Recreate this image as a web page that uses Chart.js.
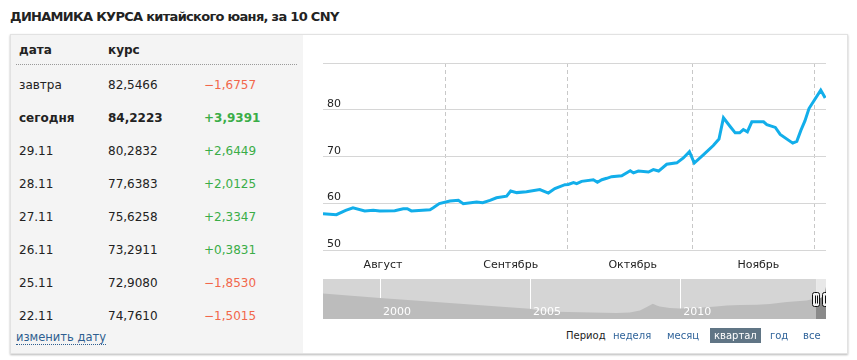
<!DOCTYPE html>
<html lang="ru">
<head>
<meta charset="utf-8">
<title>Динамика курса китайского юаня</title>
<script src="https://cdn.jsdelivr.net/npm/chart.js@4.4.1/dist/chart.umd.min.js"></script>
<style>
  body { margin: 0; width: 857px; height: 360px; overflow: hidden; position: relative; background: #fff; font-family: "DejaVu Sans", Verdana, sans-serif; color: #222; }
  #title { position: absolute; left: 10px; top: 9px; font-size: 13px; font-weight: bold; letter-spacing: -0.7px; line-height: 16px; white-space: nowrap; }
  #box { position: absolute; left: 10px; top: 34px; width: 836px; height: 318px; border: 1px solid #e2e2e2; box-shadow: 0 1px 2px rgba(0,0,0,.28); background: #fff; }
  #side { position: absolute; left: 0; top: 0; width: 292px; height: 318px; background: #f4f4f4; }
  .cell { position: absolute; font-size: 12px; line-height: 14px; white-space: nowrap; }
  .bold { font-weight: bold; }
  .up { color: #3aad47; }
  .down { color: #f2674b; }
  #dots { position: absolute; left: 16px; top: 64px; width: 281px; border-bottom: 1px dotted #9a9a9a; }
  #change { position: absolute; left: 16px; top: 330px; font-size: 11.5px; line-height: 14px; color: #2e5e90; border-bottom: 1px dotted #2e5e90; }
  #main { position: absolute; left: 303px; top: 34px; }
  #nav { position: absolute; left: 323px; top: 279px; }
  .per { position: absolute; top: 329px; font-size: 10px; line-height: 14px; color: #2f639a; white-space: nowrap; }
  #perLabel { color: #222; }
  #perActive { background: #607585; color: #fff; padding: 0 4px; top: 328px; line-height: 15px; }
</style>
</head>
<body>
<div id="title">ДИНАМИКА КУРСА китайского юаня, за 10 CNY</div>
<div id="box"><div id="side"></div></div>
<div id="table"></div>
<div id="dots"></div>
<div id="change">изменить дату</div>
<canvas id="main" width="545" height="250"></canvas>
<canvas id="nav" width="503" height="40"></canvas>
<div id="period"></div>

<script>
// table on the left
const rowDates = ['завтра', 'сегодня', '29.11', '28.11', '27.11', '26.11', '25.11', '22.11'];
const rowRates = [82.5466, 84.2223, 80.2832, 77.6383, 75.6258, 73.2911, 72.9080, 74.7610];
const rowChanges = [-1.6757, 3.9391, 2.6449, 2.0125, 2.3347, 0.3831, -1.8530, -1.5015];

// main chart: days counted from 1 August, rate for 10 CNY
const days = [0.8, 4.1, 6.4, 8.2, 11.1, 13.2, 14.8, 18.5, 20.6, 21.6, 22.6, 27.2, 28.0, 29.5,
  32.1, 34.2, 35.4, 38.7, 40.2, 42.0, 43.6, 46.1, 47.1, 48.6, 51.0, 54.3, 56.4, 58.0,
  60.5, 61.3, 62.6, 63.4, 64.6, 67.5, 68.5, 69.6, 70.8, 72.0, 74.5, 76.6, 77.4, 78.6,
  81.1, 82.3, 83.6, 85.6, 88.1, 89.7, 91.2, 92.4, 94.7, 97.1, 98.5, 99.6, 101.2, 102.5,
  103.6, 104.5, 105.5, 106.6, 109.5, 110.3, 112.4, 113.6, 116.7, 117.7, 118.7, 119.7,
  120.7, 123.6, 124.7];
const rates = [57.85, 57.65, 58.55, 59.1, 58.45, 58.6, 58.45, 58.5, 58.9, 58.9, 58.45, 58.7, 59.1, 60.0,
  60.55, 60.7, 60.0, 60.35, 60.2, 60.7, 61.25, 61.6, 62.7, 62.35, 62.55, 63.0, 62.25, 63.2,
  64.05, 64.1, 64.5, 64.25, 64.75, 65.1, 64.55, 65.1, 65.4, 65.75, 65.95, 67.0, 66.55, 66.95,
  66.75, 67.25, 66.95, 68.4, 68.7, 69.75, 71.1, 68.65, 70.45, 72.4, 73.8, 78.3, 76.5, 75.1,
  75.1, 75.8, 75.3, 77.45, 77.45, 76.85, 76.26, 74.761, 72.908, 73.2911, 75.6258, 77.6383,
  80.2832, 84.2223, 82.5466];
const monthStarts = [31, 61, 92, 122];
const monthLabelPos = [15.6, 47.1, 77.2, 108.2];
const monthNames = ['Август', 'Сентябрь', 'Октябрь', 'Ноябрь'];

// navigator: whole history
const navYears = [1998.1, 2000.0, 2004.99, 2005.49, 2006.66, 2007.88, 2008.32, 2008.66, 2008.92,
  2009.09, 2009.22, 2009.32, 2009.66, 2009.99, 2010.49, 2010.88, 2011.19, 2011.55, 2011.99,
  2012.55, 2012.99, 2013.55, 2013.99, 2014.21, 2014.36, 2014.55, 2014.75, 2014.83, 2014.86];
const navRates = [71.1, 62.5, 41.8, 36.5, 35.2, 34.0, 34.6, 38.5, 46.3,
  51.6, 48.2, 46.3, 43.4, 42.4, 43.4, 44.9, 46.3, 48.2, 49.2,
  49.6, 51.2, 54.7, 57.0, 58.0, 59.9, 58.5, 65.0, 75.0, 84.2];
const yearTicks = [2000, 2005, 2010];
const windowFrom = 2014.53;
const windowTo = 2014.86;

const periods = ['неделя', 'месяц', 'квартал', 'год', 'все'];
const activePeriod = 'квартал';

function fmt(v) {
    return v.toFixed(4).replace('.', ',');
}

// build the table rows
const table = document.getElementById('table');
function addCell(text, left, top, cls) {
    const el = document.createElement('div');
    el.className = 'cell ' + (cls || '');
    el.style.left = left + 'px';
    el.style.top = top + 'px';
    el.textContent = text;
    table.appendChild(el);
}
addCell('дата', 19, 43, 'bold');
addCell('курс', 108, 43, 'bold');
rowDates.forEach((d, i) => {
    const top = 78 + i * 33;
    const b = d === 'сегодня' ? 'bold' : '';
    const ch = rowChanges[i];
    addCell(d, 19, top, b);
    addCell(fmt(rowRates[i]), 108, top, b);
    addCell((ch >= 0 ? '+' : '−') + fmt(Math.abs(ch)), 204, top, b + (ch >= 0 ? ' up' : ' down'));
});

// period switcher
const period = document.getElementById('period');
const perLeft = [613, 667, 710, 770, 803];
const lbl = document.createElement('div');
lbl.className = 'per';
lbl.id = 'perLabel';
lbl.style.left = '566px';
lbl.textContent = 'Период';
period.appendChild(lbl);
periods.forEach((p, i) => {
    const el = document.createElement('div');
    el.className = 'per';
    if (p === activePeriod) el.id = 'perActive';
    el.style.left = perLeft[i] + 'px';
    el.textContent = p;
    period.appendChild(el);
});

// main line chart
const tickPos = monthStarts.concat(monthLabelPos).sort((a, b) => a - b);
new Chart(document.getElementById('main'), {
    type: 'line',
    data: {
        datasets: [{
            data: days.map((d, i) => ({ x: d, y: rates[i] })),
            borderColor: '#12aeea',
            borderWidth: 3,
            pointRadius: 0,
            tension: 0,
            fill: false
        }]
    },
    options: {
        responsive: false,
        animation: false,
        layout: { padding: { left: 20, right: 22, top: 29, bottom: 0 } },
        plugins: { legend: { display: false }, tooltip: { enabled: false } },
        scales: {
            x: {
                type: 'linear',
                min: 0.8,
                max: 124.9,
                afterBuildTicks: s => { s.ticks = tickPos.map(v => ({ value: v })); },
                afterFit: s => { s.height = 33.5; },
                grid: {
                    color: ctx => (ctx.tick && monthStarts.includes(ctx.tick.value)) ? '#c8c8c8' : 'rgba(0,0,0,0)',
                    drawTicks: false
                },
                border: { display: false, dash: [4, 3] },
                ticks: {
                    autoSkip: false,
                    maxRotation: 0,
                    padding: 8,
                    color: '#222',
                    font: { family: 'DejaVu Sans', size: 11 },
                    callback: v => {
                        const i = monthLabelPos.indexOf(v);
                        return i >= 0 ? monthNames[i] : '';
                    }
                }
            },
            y: {
                min: 50,
                max: 90,
                afterFit: s => { s.width = 0; },
                grid: { color: '#d6d6d6', drawTicks: false },
                border: { display: false },
                ticks: {
                    stepSize: 10,
                    mirror: true,
                    padding: 4,
                    labelOffset: -6,
                    color: '#222',
                    font: { family: 'DejaVu Sans', size: 11 },
                    callback: v => v === 90 ? '' : v
                }
            }
        }
    }
});

// navigator decorations: mask, year labels, handles
const navDecor = {
    id: 'navDecor',
    beforeDraw(chart) {
        const { ctx, chartArea: a, scales: { x } } = chart;
        const p = x.getPixelForValue(windowFrom);
        ctx.save();
        ctx.fillStyle = '#d5d5d5';
        ctx.fillRect(a.left, a.top, p - a.left, a.bottom - a.top);
        ctx.fillStyle = '#e8e8e8';
        ctx.fillRect(p, a.top, a.right - p, a.bottom - a.top);
        ctx.restore();
    },
    afterDraw(chart) {
        const { ctx, chartArea: a, scales: { x } } = chart;
        ctx.save();
        ctx.fillStyle = '#fff';
        ctx.font = '11px "DejaVu Sans"';
        ctx.textBaseline = 'alphabetic';
        yearTicks.forEach(v => ctx.fillText(String(v), x.getPixelForValue(v) + 3, a.bottom - 4));
        [windowFrom, windowTo].forEach(v => {
            const cx = Math.round(x.getPixelForValue(v));
            const top = a.top + 13.5;
            ctx.fillStyle = '#f2f2f2';
            ctx.strokeStyle = '#111';
            ctx.lineWidth = 1;
            ctx.beginPath();
            ctx.roundRect(cx - 3.5, top, 7, 14, 2);
            ctx.fill();
            ctx.stroke();
            ctx.beginPath();
            ctx.moveTo(cx - 0.5, top + 3);
            ctx.lineTo(cx - 0.5, top + 11);
            ctx.moveTo(cx + 1.5, top + 3);
            ctx.lineTo(cx + 1.5, top + 11);
            ctx.stroke();
        });
        ctx.restore();
    }
};

function navFill(context) {
    const chart = context.chart;
    const a = chart.chartArea;
    if (!a) return '#bcbcbc';
    const p = chart.scales.x.getPixelForValue(windowFrom);
    const f = Math.min(1, Math.max(0, (p - a.left) / (a.right - a.left)));
    const g = chart.ctx.createLinearGradient(a.left, 0, a.right, 0);
    g.addColorStop(0, '#bcbcbc');
    g.addColorStop(f, '#bcbcbc');
    g.addColorStop(f, '#8a8a8a');
    g.addColorStop(1, '#8a8a8a');
    return g;
}

new Chart(document.getElementById('nav'), {
    type: 'line',
    data: {
        datasets: [{
            data: navYears.map((y, i) => ({ x: y, y: navRates[i] })),
            borderWidth: 0,
            borderColor: 'rgba(0,0,0,0)',
            pointRadius: 0,
            tension: 0,
            fill: 'start',
            backgroundColor: navFill
        }]
    },
    options: {
        responsive: false,
        animation: false,
        layout: { padding: 0 },
        plugins: { legend: { display: false }, tooltip: { enabled: false } },
        scales: {
            x: {
                type: 'linear',
                min: 1998.1,
                max: 2014.86,
                z: 1,
                afterBuildTicks: s => { s.ticks = yearTicks.map(v => ({ value: v })); },
                afterFit: s => { s.height = 0; },
                grid: { color: '#fff', drawTicks: false },
                border: { display: false },
                ticks: { display: false }
            },
            y: { display: false, min: 22.3, max: 99 }
        }
    },
    plugins: [navDecor]
});
</script>
</body>
</html>
